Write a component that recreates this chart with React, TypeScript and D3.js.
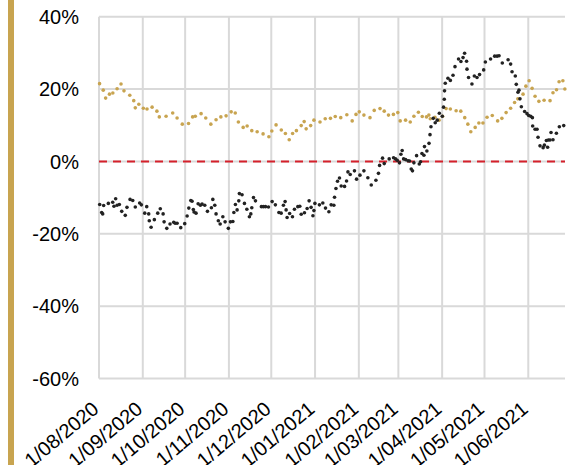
import React from "react";
import * as d3 from "d3";

const blackDays = [
  0.5,1.9,2.6,3.3,6.6,9.7,10.6,11.8,12.8,14.4,
  16.1,18.6,19.8,22.0,23.9,25.7,28.8,30.0,32.4,33.8,
  35.2,35.6,36.9,39.2,41.6,43.4,45.4,46.1,48.0,50.3,
  52.9,53.9,55.3,57.9,60.7,62.4,63.6,65.0,65.9,66.8,
  67.3,68.7,70.2,71.8,73.0,74.9,76.8,79.6,80.6,82.0,
  82.9,84.5,85.8,87.7,89.3,91.6,93.1,94.8,95.5,96.6,
  97.8,99.0,99.4,101.3,103.0,104.7,106.5,107.5,108.2,109.4,
  110.8,115.0,116.4,117.9,120.0,122.6,124.9,127.4,129.0,130.6,
  131.8,132.5,133.2,135.0,137.0,138.4,140.8,142.2,143.2,145.5,
  147.4,148.8,150.2,151.5,152.2,152.9,156.1,158.5,160.4,162.8,
  164.4,166.3,166.8,167.8,168.9,170.3,171.5,173.9,175.3,176.3,
  177.9,180.9,182.4,184.8,187.6,190.4,192.8,196.1,197.9,198.7,
  200.8,202.0,205.5,208.6,210.0,211.2,212.8,213.8,214.7,215.7,
  217.1,218.8,219.9,221.1,222.0,223.0,224.9,226.8,227.7,228.7,
  230.1,230.5,232.2,233.7,234.4,235.1,236.7,238.1,239.5,241.0,
  243.1,244.0,244.5,244.7,245.2,247.1,248.8,250.7,252.1,254.6,
  256.3,257.8,258.9,260.3,260.6,261.7,264.1,265.8,267.7,269.5,
  272.4,273.6,277.3,280.2,281.9,283.3,285.6,289.7,291.5,292.5,
  294.8,295.5,296.7,297.4,298.1,299.1,301.4,303.1,304.3,305.7,
  306.9,307.1,308.8,310.2,310.9,312.3,314.5,315.4,316.8,317.7,
  318.2,319.4,320.1,321.5,323.9,326.0,329.1,
];
const blackValues = [
  -11.9,-14.1,-14.5,-12.2,-11.6,-11.3,-12.4,-10.3,-12.1,-11.9,
  -13.8,-14.9,-12.7,-10.5,-10.8,-12.6,-11.5,-12.0,-14.3,-12.5,
  -14.5,-16.4,-18.2,-16.1,-14.3,-13.1,-14.5,-16.7,-18.5,-17.3,
  -16.8,-17.1,-17.1,-18.3,-17.2,-15.1,-12.9,-10.8,-11.0,-13.3,
  -14.0,-14.3,-11.7,-12.1,-11.8,-12.1,-13.8,-12.8,-10.5,-12.1,
  -14.5,-16.4,-17.3,-15.3,-16.7,-18.5,-16.7,-16.6,-14.1,-11.9,
  -13.4,-10.9,-8.9,-9.2,-11.6,-13.2,-15.3,-14.5,-12.8,-10.0,
  -10.9,-12.5,-12.5,-12.5,-12.6,-11.1,-12.0,-14.1,-14.3,-12.1,
  -11.1,-13.4,-15.5,-14.4,-15.3,-13.2,-12.5,-12.4,-14.6,-14.2,
  -13.0,-10.9,-12.7,-15.0,-13.6,-11.6,-12.0,-11.5,-12.9,-13.9,
  -12.0,-12.1,-9.9,-7.5,-5.5,-4.6,-6.8,-6.9,-5.4,-2.9,
  -3.6,-2.6,-4.9,-3.8,-2.6,-4.5,-6.5,-5.2,-3.3,-1.1,
  0.9,-0.6,0.7,1.0,0.7,0.3,-0.4,2.0,3.0,0.7,
  0.5,0.2,0.1,-2.1,-2.6,-0.4,1.6,-0.7,-0.1,2.2,
  1.7,4.1,2.9,5.0,7.4,9.6,11.9,10.7,11.4,13.3,
  12.5,15.0,17.2,19.5,21.6,23.0,22.4,23.8,26.2,28.3,
  27.6,28.7,29.9,27.7,25.5,23.2,21.4,23.6,23.2,24.0,
  25.3,27.5,28.3,29.1,29.1,29.2,27.2,28.1,26.9,24.8,
  23.6,21.3,19.1,19.7,17.3,15.1,13.8,13.2,12.7,12.5,
  12.1,9.8,8.9,8.9,6.7,4.3,3.8,4.5,5.8,3.9,
  5.9,5.9,8.0,6.0,7.8,9.6,9.9,
];

const goldDays = [
  0.4,3.0,4.7,7.4,9.8,12.8,15.6,17.7,21.8,24.6,
  25.7,28.2,31.4,34.0,37.6,41.0,42.7,47.5,52.2,55.3,
  59.0,63.4,66.3,68.2,72.3,75.6,79.2,82.9,86.3,90.0,
  93.6,96.5,98.7,102.1,104.9,108.2,112.0,116.2,120.3,122.4,
  125.4,129.1,132.0,134.7,137.1,139.8,143.2,145.3,146.7,149.9,
  152.2,156.5,160.2,163.9,167.3,171.2,175.5,179.3,182.0,184.3,
  187.6,191.9,194.9,199.0,202.0,205.0,208.5,211.6,213.3,217.1,
  220.4,223.0,226.2,228.9,231.9,233.6,234.6,237.9,240.8,243.3,
  245.8,248.8,252.9,256.2,259.0,261.2,263.3,266.4,269.0,271.9,
  274.8,278.5,282.3,285.3,288.3,291.5,294.3,296.6,300.3,302.3,
  304.6,306.7,308.8,311.5,315.2,319.4,321.5,324.0,325.8,328.5,
  329.9,
];
const goldValues = [
  21.5,19.7,17.5,18.6,18.9,20.1,21.4,19.5,18.3,16.8,
  14.8,15.8,14.7,14.5,15.0,13.9,12.3,12.5,13.4,12.0,
  10.3,10.5,12.3,12.5,13.2,12.0,10.3,11.5,12.3,12.6,
  13.7,13.4,10.9,9.4,9.8,8.5,8.2,7.6,6.8,8.4,
  10.1,8.7,7.7,6.0,7.7,8.5,9.9,11.0,9.0,9.9,
  11.4,10.9,11.8,11.9,12.4,12.1,12.9,11.2,13.0,13.7,
  12.8,12.1,14.1,14.6,13.9,12.8,13.0,13.5,11.2,11.4,
  10.9,12.5,13.6,12.4,12.3,12.8,11.8,12.2,11.4,12.5,
  14.6,14.5,14.0,13.9,12.1,10.3,8.2,9.4,10.6,10.6,
  12.2,12.7,11.2,11.9,13.5,14.7,16.3,17.3,18.6,20.8,
  22.3,20.2,18.0,16.6,16.9,16.8,19.0,19.8,22.0,22.3,
  20.0,
];

const yTicks = [40, 20, 0, -20, -40, -60];
const startDate = new Date(Date.UTC(2020, 7, 1));
const endDate = new Date(Date.UTC(2021, 5, 27));
const DAY = 86400000;

const W = 567;
const H = 465;
const GOLD = "#c8a450";
const BLACK = "#222222";
const GRID = "#d9d9d9";
const RED = "#d5202b";
const FONT = "'Liberation Sans', Arial, sans-serif";

export default function App() {
  const x = d3.scaleUtc().domain([startDate, endDate]).range([99, 565]);
  const y = d3.scaleLinear().domain([-60, 40]).range([378.5, 16.7]);
  const months = d3.utcMonth.range(startDate, endDate);
  const fmt = d3.utcFormat("%-d/%m/%Y");
  const toDate = (d: number) => new Date(startDate.getTime() + d * DAY);

  const black = blackDays.slice(0, Math.min(blackDays.length, blackValues.length)).map((d, i) => ({ t: toDate(d), v: blackValues[i] }));
  const gold = goldDays.slice(0, Math.min(goldDays.length, goldValues.length)).map((d, i) => ({ t: toDate(d), v: goldValues[i] }));

  const [x0, x1] = x.range();
  const yTop = y(40);
  const yBot = y(-60);

  return (
    <svg width={W} height={H} style={{ position: "absolute", left: 0, top: 0, background: "#fff" }} fontFamily={FONT}>
      <rect x={0} y={0} width={W} height={H} fill="#fff" />
      <rect x={8} y={0} width={6} height={H} fill={GOLD} />
      {yTicks.map((t) => (
        <line key={"h" + t} x1={x0} x2={x1} y1={y(t)} y2={y(t)} stroke={GRID} strokeWidth={2} />
      ))}
      {months.map((m) => (
        <line key={"v" + m.getTime()} x1={x(m)} x2={x(m)} y1={yTop} y2={yBot} stroke={GRID} strokeWidth={2} />
      ))}
      <line x1={x0} x2={x1} y1={y(0)} y2={y(0)} stroke={RED} strokeWidth={2} strokeDasharray="8,6" />
      {gold.map((p, i) => (
        <circle key={"g" + i} cx={x(p.t)} cy={y(p.v)} r={1.8} fill={GOLD} />
      ))}
      {black.map((p, i) => (
        <circle key={"b" + i} cx={x(p.t)} cy={y(p.v)} r={1.8} fill={BLACK} />
      ))}
      {yTicks.map((t) => (
        <text key={"yl" + t} x={79} y={y(t)} dy="0.36em" textAnchor="end" fontSize={20} fill="#000">
          {t + "%"}
        </text>
      ))}
      {months.map((m) => (
        <text
          key={"xl" + m.getTime()}
          transform={`translate(${x(m) + 1},${411}) rotate(-40)`}
          textAnchor="end"
          fontSize={20}
          fill="#000"
        >
          {fmt(m)}
        </text>
      ))}
    </svg>
  );
}
